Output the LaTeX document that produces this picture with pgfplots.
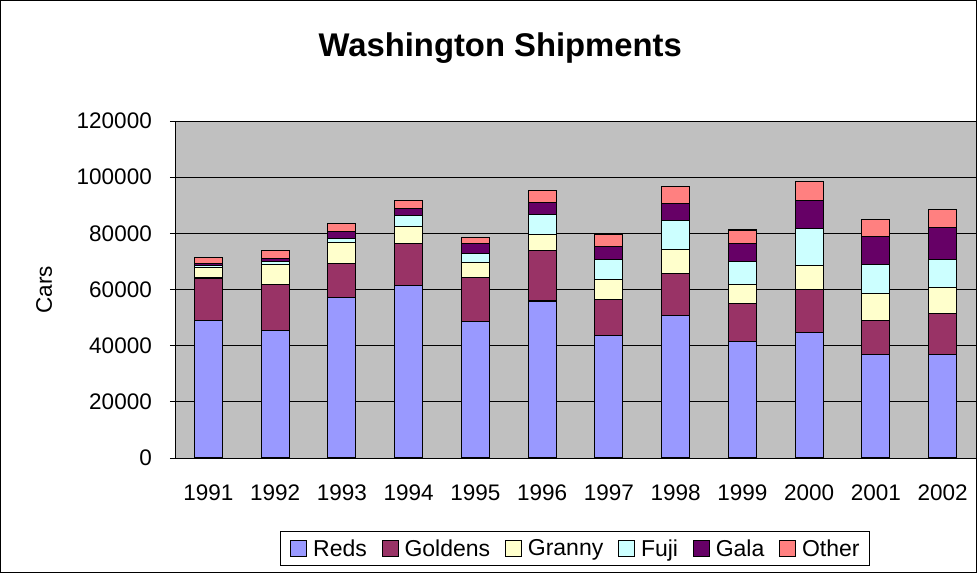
\documentclass[border=0pt]{standalone}
\usepackage{pgfplots}
\pgfplotsset{compat=1.18}
\usepackage{pgfplotstable}
\usepackage{fontspec}
\setmainfont{Liberation Sans}
\definecolor{cReds}{HTML}{9999FF}
\definecolor{cGoldens}{HTML}{993366}
\definecolor{cGranny}{HTML}{FFFFCC}
\definecolor{cFuji}{HTML}{CCFFFF}
\definecolor{cGala}{HTML}{660066}
\definecolor{cOther}{HTML}{FF8080}
\definecolor{plotbg}{HTML}{C0C0C0}
\pgfplotstableread{
x year Reds Goldens Granny Fuji Gala Other
0 1991 49100 15000 3800 700 600 2100
1 1992 45300 16600 7000 1200 1000 2900
2 1993 57000 12100 7700 1500 2300 2900
3 1994 61300 15000 6000 3900 2800 2700
4 1995 48600 15600 5400 3200 3500 2100
5 1996 55900 18100 5500 7200 4400 4000
6 1997 43700 12600 7300 7200 4400 4300
7 1998 50900 14800 8400 10500 6100 6100
8 1999 41600 13500 6700 8300 6200 4900
9 2000 44800 15300 8400 13300 9900 6600
10 2001 37000 12100 9600 10300 10000 6000
11 2002 37000 14300 9500 10000 11400 6200
}\datatable
\begin{document}
\begin{tikzpicture}
\begin{axis}[
  at={(0,0)}, anchor=south west,
  scale only axis,
  width=801bp, height=337bp,
  ybar stacked,
  bar width=28bp,
  xmin=-0.5, xmax=11.5,
  ymin=0, ymax=120000,
  ytick={0,20000,...,120000},
  scaled y ticks=false,
  /pgf/number format/assume math mode=true,
  yticklabel={\pgfmathprintnumber[fixed,precision=0,1000 sep={}]{\tick}},
  axis background/.style={fill=plotbg},
  axis x line*=bottom, axis y line*=left,
  axis line style={black, line width=0.8bp},
  ymajorgrids, grid style={black, line width=0.8bp},
  xtick={0,...,11},
  xticklabels={1991,1992,1993,1994,1995,1996,1997,1998,1999,2000,2001,2002},
  x tick style={draw=none},
  extra x ticks={-0.5,0.5,...,11.5},
  extra x tick labels={},
  extra x tick style={grid=none, tick align=outside, major tick length=6bp, tick style={black, line width=0.8bp}},
  y tick style={black, line width=0.8bp},
  tick align=outside, major tick length=5bp,
  tick label style={font=\fontsize{22.5bp}{26bp}\selectfont},
  xticklabel style={anchor=north, inner sep=0pt, yshift=-22bp},
  yticklabel style={anchor=east, inner sep=0pt, xshift=-18bp},
  ylabel={Cars},
  ylabel style={font=\fontsize{22.5bp}{26bp}\selectfont, at={(axis description cs:-0.1635,0.5)}, anchor=center},
  title={Washington Shipments},
  title style={at={(axis description cs:0.406,1.175)}, anchor=base, font=\bfseries\fontsize{32.8bp}{37bp}\selectfont},
  legend style={at={(axis description cs:0.4994,-0.2686)}, anchor=center, legend columns=-1, draw=black, line width=0.8bp, font=\fontsize{23bp}{26bp}\selectfont, inner xsep=10bp, inner ysep=7bp,
    nodes={inner xsep=0pt, inner ysep=1bp},
    cells={anchor=west},
    /tikz/every odd column/.append style={column sep=6bp},
    /tikz/every even column/.append style={column sep=15bp}},
  legend image code/.code={\draw[#1, draw=black, line width=0.7bp] (0bp,-8bp) rectangle (16bp,8bp);},
  every axis plot/.append style={draw=black, line width=1.1bp},
]
\addplot[fill=cReds] table[x=x,y=Reds]{\datatable};
\addplot[fill=cGoldens] table[x=x,y=Goldens]{\datatable};
\addplot[fill=cGranny] table[x=x,y=Granny]{\datatable};
\addplot[fill=cFuji] table[x=x,y=Fuji]{\datatable};
\addplot[fill=cGala] table[x=x,y=Gala]{\datatable};
\addplot[fill=cOther] table[x=x,y=Other]{\datatable};
\legend{Reds,Goldens,Granny,Fuji,Gala,Other}
\end{axis}
\draw[black, line width=0.8bp] (-174.5bp,-114.5bp) rectangle (801.6bp,457.5bp);
\useasboundingbox (-175bp,-115bp) rectangle (802bp,458bp);
\end{tikzpicture}
\end{document}
